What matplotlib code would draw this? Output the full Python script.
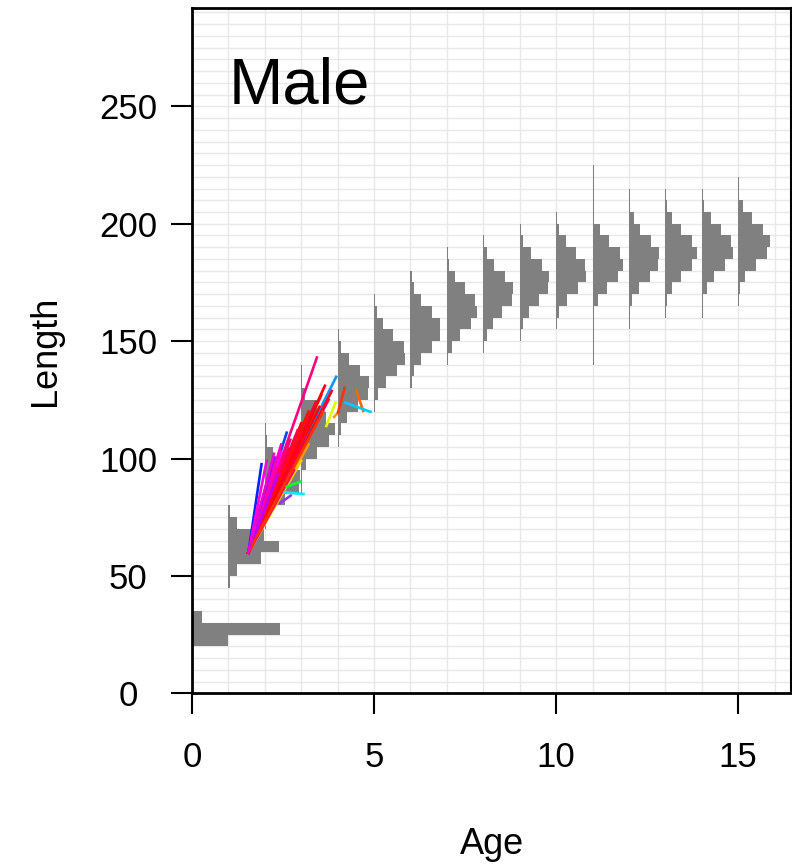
import numpy as np
import matplotlib
matplotlib.use('Agg')
import matplotlib.pyplot as plt
from matplotlib.ticker import MultipleLocator

plt.rcParams['font.family'] = ['Liberation Sans', 'DejaVu Sans']

# 各年龄的体长分布 (每格 5 单位, 宽度为比例)
ages = [0, 1, 2, 3, 4, 5, 6, 7, 8, 9, 10, 11, 12, 13, 14, 15]
bin_w = 5
hist_lo = [20, 45, 70, 85, 105, 120, 130, 140, 145, 150, 155, 140, 155, 160, 160, 165]
hist_w = [
    [1.0, 2.42, 0.27],
    [0.03, 0.23, 0.89, 1.38, 0.97, 0.23, 0.03],
    [0.03, 0.12, 0.55, 0.95, 0.97, 0.5, 0.22, 0.06, 0.03],
    [0.03, 0.03, 0.13, 0.42, 0.76, 0.92, 0.68, 0.42, 0.1, 0.03, 0.03],
    [0.03, 0.08, 0.25, 0.57, 0.83, 0.86, 0.62, 0.3, 0.09, 0.03],
    [0.03, 0.11, 0.32, 0.63, 0.84, 0.82, 0.52, 0.25, 0.09, 0.03],
    [0.03, 0.1, 0.28, 0.58, 0.82, 0.82, 0.58, 0.3, 0.1, 0.03],
    [0.03, 0.14, 0.37, 0.65, 0.83, 0.76, 0.49, 0.23, 0.07, 0.03],
    [0.03, 0.09, 0.27, 0.51, 0.79, 0.81, 0.59, 0.29, 0.09, 0.03],
    [0.03, 0.08, 0.25, 0.53, 0.77, 0.8, 0.6, 0.31, 0.09, 0.03],
    [0.03, 0.09, 0.29, 0.6, 0.81, 0.79, 0.55, 0.26, 0.09, 0.03],
    [0.03, 0.03, 0.03, 0.03, 0.04, 0.16, 0.4, 0.69, 0.84, 0.75, 0.46, 0.2, 0.05, 0.03, 0.03, 0.03, 0.03],
    [0.03, 0.03, 0.09, 0.27, 0.57, 0.81, 0.83, 0.61, 0.31, 0.13, 0.04, 0.03],
    [0.03, 0.05, 0.18, 0.43, 0.72, 0.87, 0.74, 0.43, 0.18, 0.05, 0.03],
    [0.03, 0.03, 0.13, 0.34, 0.63, 0.85, 0.79, 0.54, 0.24, 0.07, 0.03],
    [0.03, 0.06, 0.2, 0.48, 0.8, 0.87, 0.69, 0.38, 0.14, 0.03, 0.03],
]

# 标记放流 -> 重捕 (大多数从同一点出发)
fan_age0 = 1.55
fan_len0 = 60
fan_age1 = [1.91, 2.60, 2.92, 2.88, 3.96, 3.43, 3.65, 3.84, 3.75, 3.5, 3.3, 3.1,
            2.28, 2.2, 2.36, 2.45, 2.55, 2.69, 3.2, 3.0,
            2.8, 2.6, 2.5, 2.4, 2.65, 2.75, 2.95, 3.0, 2.1, 2.2, 2.3, 2.5,
            3.55, 3.4, 3.2, 2.9, 2.7, 2.45, 2.35, 2.15, 2.05, 3.6, 2.25]
fan_len1 = [97.6, 111.0, 109.6, 109.0, 134.8, 143.0, 131.0, 128.8, 125, 122, 118, 110,
            100.4, 98, 100.4, 103, 99, 94.7, 106, 99,
            95, 92, 88, 86, 104, 100, 104, 115, 90, 92, 96, 95,
            127, 124, 120, 112, 108, 106, 93, 95, 99, 120, 102]
fan_col = ['#0022ff', '#0044ff', '#0077ff', '#00aaff', '#0099ff', '#ff0080', '#ff0010', '#ff0020',
           '#ff0033', '#ff0000', '#ff1a1a', '#ff0040', '#9900ff', '#8800ff', '#cc00ff', '#ff00ff',
           '#ee00ff', '#ff00cc', '#ff9900', '#ffcc00',
           '#ff0066', '#ff0050', '#ff00aa', '#ff33cc', '#ff0000', '#ff2000', '#ff0030', '#ff0015',
           '#aa00ff', '#ff00ee', '#ff0099', '#dd00ff',
           '#ff0000', '#ff0028', '#ff1000', '#ff0048', '#ff0070', '#ff00bb', '#bb00ff', '#7700ff',
           '#ff00dd', '#ff3300', '#ee00cc']

# 其他单独的轨迹
seg_age0 = [3.94, 3.99, 4.19, 4.51, 4.21, 2.55, 2.60, 2.42]
seg_len0 = [123.8, 119.2, 130.0, 129.1, 123.8, 85.6, 88.0, 81.0]
seg_age1 = [3.69, 3.90, 4.01, 4.70, 4.90, 3.06, 2.97, 2.71]
seg_len1 = [113.9, 117.7, 119.6, 120.3, 119.9, 84.9, 90.1, 84.2]
seg_col = ['#ddff00', '#ff9900', '#ff3300', '#ff6600', '#00ccff', '#00eeff', '#00ff33', '#9933ff']

fig = plt.figure(figsize=(7.92, 8.65), dpi=100)
ax = fig.add_axes([192 / 792, 1 - 693.3 / 865, 599 / 792, 685.3 / 865])
ax.set_xlim(0, 16.45)
ax.set_ylim(0, 291.9)

# 网格
ax.xaxis.set_major_locator(MultipleLocator(5))
ax.xaxis.set_minor_locator(MultipleLocator(1))
ax.yaxis.set_major_locator(MultipleLocator(50))
ax.yaxis.set_minor_locator(MultipleLocator(5))
ax.grid(which='both', color='#e8e8e8', linewidth=1.0)
ax.set_axisbelow(True)

# 直方图
for a, lo, ws in zip(ages, hist_lo, hist_w):
    ys = lo + bin_w * np.arange(len(ws))
    ax.barh(ys, ws, height=bin_w, left=a, align='edge', color='#808080', edgecolor='none')

# 生长轨迹
for x1, y1, c in zip(fan_age1, fan_len1, fan_col):
    ax.plot([fan_age0, x1], [fan_len0, y1], color=c, linewidth=1.9)
for x0, y0, x1, y1, c in zip(seg_age0, seg_len0, seg_age1, seg_len1, seg_col):
    ax.plot([x0, x1], [y0, y1], color=c, linewidth=1.9)

ax.text(2.94, 251.4, 'Male', fontsize=47, ha='center', va='baseline')

for s in ['left', 'bottom', 'top']:
    ax.spines[s].set_linewidth(2)
ax.spines['right'].set_linewidth(1.5)

ax.tick_params(which='minor', length=0)
ax.tick_params(which='major', length=15, width=1.5, labelsize=25)
ax.tick_params(axis='x', pad=19)
ax.tick_params(axis='y', pad=31)
for lab in ax.get_yticklabels():
    lab.set_horizontalalignment('center')

ax.set_xlabel('Age', fontsize=26, va='center')
ax.xaxis.set_label_coords(0.5, (693.3 - 845) / 685.3)
ax.set_ylabel('Length', fontsize=26, va='center')
ax.yaxis.set_label_coords((45 - 192) / 599, 0.5)

plt.savefig('out.png', dpi=100)
